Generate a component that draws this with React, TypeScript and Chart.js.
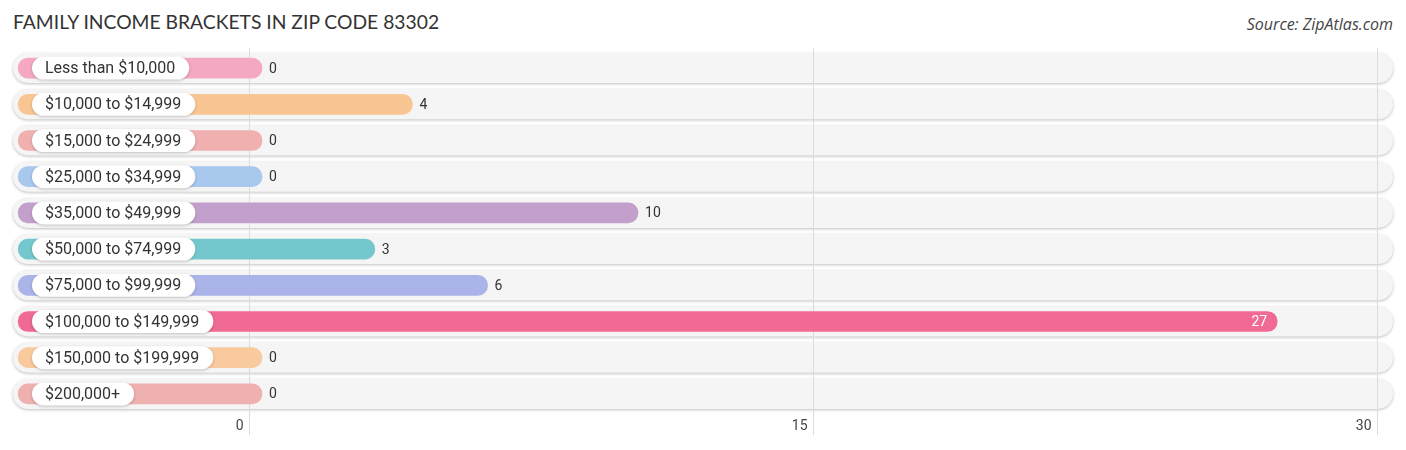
import React, { useEffect, useRef } from "react";
import { Chart, registerables } from "chart.js";

Chart.register(...registerables);

const categories = [
  "Less than $10,000",
  "$10,000 to $14,999",
  "$15,000 to $24,999",
  "$25,000 to $34,999",
  "$35,000 to $49,999",
  "$50,000 to $74,999",
  "$75,000 to $99,999",
  "$100,000 to $149,999",
  "$150,000 to $199,999",
  "$200,000+",
];
const values = [0, 4, 0, 0, 10, 3, 6, 27, 0, 0];
const colors = [
  "#f5a8c2",
  "#f9c693",
  "#f0b0b0",
  "#a9c8ee",
  "#c3a0cb",
  "#74c8cd",
  "#aab4e8",
  "#f06a93",
  "#f9ca9e",
  "#efb0b0",
];
const tickValues = [0, 15, 30];

const X_MIN = -6.277;
const X_MAX = 30.426;
const BAR_START = -6.14;
const BAR_EXTRA = 0.346;
const FONT = "Roboto, 'Noto Sans', sans-serif";

function roundRect(ctx: CanvasRenderingContext2D, x: number, y: number, w: number, h: number, r: number) {
  ctx.beginPath();
  ctx.moveTo(x + r, y);
  ctx.lineTo(x + w - r, y);
  ctx.arc(x + w - r, y + r, r, -Math.PI / 2, Math.PI / 2);
  ctx.lineTo(x + r, y + h);
  ctx.arc(x + r, y + r, r, Math.PI / 2, (3 * Math.PI) / 2);
  ctx.closePath();
}

const decor = {
  id: "decor",
  beforeDatasetsDraw(chart: any) {
    const ctx: CanvasRenderingContext2D = chart.ctx;
    const area = chart.chartArea;
    const xs = chart.scales.x;
    const ys = chart.scales.y;
    categories.forEach((_, i) => {
      const cy = ys.getPixelForValue(i);
      const h = 30;
      ctx.save();
      ctx.shadowColor = "rgba(0,0,0,0.25)";
      ctx.shadowBlur = 3;
      ctx.shadowOffsetY = 1;
      roundRect(ctx, area.left, cy - h / 2, area.right - area.left, h, h / 2);
      ctx.fillStyle = "#f5f5f5";
      ctx.fill();
      ctx.restore();
    });
    ctx.save();
    tickValues.forEach((t) => {
      const x = Math.round(xs.getPixelForValue(t)) + 0.5;
      ctx.strokeStyle = "#dcdcdc";
      ctx.lineWidth = 1;
      ctx.beginPath();
      ctx.moveTo(x, area.top - 2);
      ctx.lineTo(x, area.bottom + 23);
      ctx.stroke();
      ctx.fillStyle = "#444";
      ctx.font = `14px ${FONT}`;
      ctx.textAlign = "right";
      ctx.textBaseline = "middle";
      ctx.fillText(String(t), x - 6, area.bottom + 14);
    });
    ctx.restore();
  },
  afterDatasetsDraw(chart: any) {
    const ctx: CanvasRenderingContext2D = chart.ctx;
    const xs = chart.scales.x;
    const ys = chart.scales.y;
    categories.forEach((label, i) => {
      const cy = ys.getPixelForValue(i);
      ctx.save();
      ctx.font = `16px ${FONT}`;
      const tw = ctx.measureText(label).width;
      const px = 32;
      const ph = 23;
      const pw = tw + 27;
      ctx.shadowColor = "rgba(0,0,0,0.22)";
      ctx.shadowBlur = 3;
      ctx.shadowOffsetY = 1;
      roundRect(ctx, px, cy - ph / 2, pw, ph, ph / 2);
      ctx.fillStyle = "#ffffff";
      ctx.fill();
      ctx.restore();
      ctx.save();
      ctx.font = `16px ${FONT}`;
      ctx.fillStyle = "#333";
      ctx.textAlign = "left";
      ctx.textBaseline = "middle";
      ctx.fillText(label, px + 13, cy + 1);
      ctx.restore();
      const v = values[i];
      const endX = xs.getPixelForValue(v + BAR_EXTRA);
      ctx.save();
      ctx.font = `14px ${FONT}`;
      ctx.textBaseline = "middle";
      if (v >= 20) {
        ctx.fillStyle = "#ffffff";
        ctx.textAlign = "right";
        ctx.fillText(String(v), endX - 10, cy + 1);
      } else {
        ctx.fillStyle = "#333";
        ctx.textAlign = "left";
        ctx.fillText(String(v), endX + 7, cy + 1);
      }
      ctx.restore();
    });
  },
};

export default function App() {
  const ref = useRef<HTMLCanvasElement | null>(null);
  useEffect(() => {
    if (!ref.current) return;
    const chart = new Chart(ref.current, {
      type: "bar",
      data: {
        labels: categories,
        datasets: [
          {
            data: values.map((v) => [BAR_START, v + BAR_EXTRA]) as any,
            backgroundColor: colors,
            borderRadius: 10,
            borderSkipped: false,
            barThickness: 20,
          },
        ],
      },
      options: {
        indexAxis: "y",
        animation: false,
        responsive: false,
        maintainAspectRatio: false,
        layout: { padding: { left: 13, right: 13, top: 50, bottom: 38 } },
        scales: {
          x: { type: "linear", min: X_MIN, max: X_MAX, display: false },
          y: { type: "category", display: false, offset: true },
        },
        plugins: {
          legend: { display: false },
          tooltip: { enabled: false },
          title: { display: false },
        },
      },
      plugins: [decor],
    });
    return () => chart.destroy();
  }, []);
  return (
    <div style={{ position: "absolute", left: 0, top: 0, width: 1406, height: 450, background: "#fff" }}>
      <div
        style={{
          position: "absolute",
          left: 13,
          top: 10,
          fontFamily: "Lato, 'Open Sans', sans-serif",
          fontSize: 19.3,
          color: "#333",
          whiteSpace: "nowrap",
        }}
      >
        FAMILY INCOME BRACKETS IN ZIP CODE 83302
      </div>
      <div
        style={{
          position: "absolute",
          right: 13,
          top: 13,
          fontFamily: "'Open Sans', sans-serif",
          fontStyle: "italic",
          fontSize: 16,
          color: "#444",
          whiteSpace: "nowrap",
        }}
      >
        Source: ZipAtlas.com
      </div>
      <canvas ref={ref} width={1406} height={450} style={{ position: "absolute", left: 0, top: 0, width: 1406, height: 450 }} />
    </div>
  );
}
